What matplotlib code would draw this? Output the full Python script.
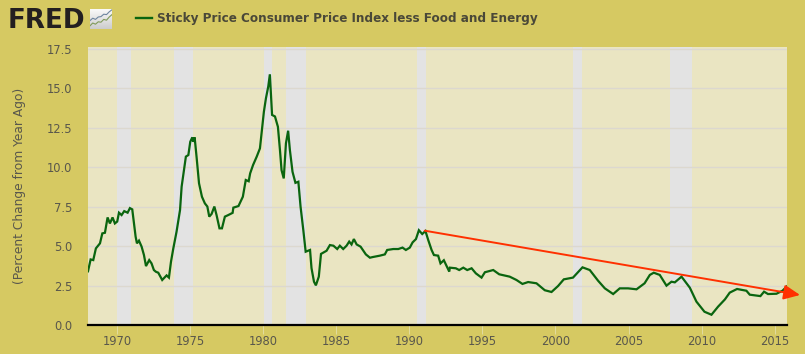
#!/bin/python3
import matplotlib
matplotlib.use("Agg")
import matplotlib.pyplot as plt
import numpy as np

###############################################################################
# Data

YEARS = [
    1968.0, 1968.18, 1968.36, 1968.54, 1968.82, 1968.98, 1969.16, 1969.34, 1969.5, 1969.68,
    1969.84, 1970.0, 1970.12, 1970.3, 1970.48, 1970.71, 1970.87, 1971.03, 1971.26,
    1971.35, 1971.49, 1971.67, 1971.83, 1971.97, 1972.19, 1972.35, 1972.51, 1972.65, 1972.81,
    1973.08, 1973.38, 1973.54, 1973.68, 1973.84, 1974.06, 1974.3, 1974.41, 1974.57, 1974.7,
    1974.87, 1975.0, 1975.14, 1975.2, 1975.3, 1975.43, 1975.6, 1975.8, 1976.0, 1976.17,
    1976.3, 1976.46, 1976.65, 1976.8, 1977.0, 1977.17, 1977.37, 1977.6, 1977.9, 1977.95,
    1978.3, 1978.6, 1978.8, 1979.0, 1979.1, 1979.3, 1979.55, 1979.77, 1980.04, 1980.18,
    1980.34, 1980.45, 1980.6, 1980.8, 1981.0, 1981.14, 1981.25, 1981.4, 1981.55, 1981.7,
    1981.82, 1982.0, 1982.2, 1982.4, 1982.55, 1982.74, 1982.9, 1983.2, 1983.3, 1983.47,
    1983.6, 1983.8, 1983.95, 1984.33, 1984.56, 1984.8, 1985.06, 1985.24, 1985.47, 1985.7,
    1985.88, 1986.04, 1986.2, 1986.39, 1986.66, 1987.02, 1987.3, 1987.48, 1987.98, 1988.32,
    1988.48, 1988.9, 1989.24, 1989.53, 1989.76, 1990.03, 1990.22, 1990.45, 1990.65, 1990.88,
    1991.1, 1991.29, 1991.52, 1991.68, 1991.97, 1992.13, 1992.36, 1992.73, 1992.77, 1993.18,
    1993.41, 1993.69, 1993.96, 1994.26, 1994.55, 1994.94, 1995.17, 1995.74, 1996.15, 1996.87,
    1997.33, 1997.74, 1998.13,
    1998.7, 1999.27, 1999.73, 2000.18, 2000.57, 2001.2, 2001.85, 2002.35, 2002.92, 2003.38,
    2003.95, 2004.4, 2004.97, 2005.55, 2006.1, 2006.46, 2006.73, 2007.14, 2007.6, 2007.94,
    2008.17, 2008.63, 2009.2, 2009.65, 2010.2, 2010.68, 2011.13, 2011.6, 2011.93, 2012.43,
    2013.07, 2013.3, 2014.03, 2014.28, 2014.55, 2015.13, 2015.54, 2015.85,
]
VALUES = [
    3.4, 4.15, 4.11, 4.85, 5.17, 5.8, 5.84, 6.81, 6.43, 6.81,
    6.43, 6.55, 7.11, 6.96, 7.21, 7.11, 7.4, 7.32, 5.59,
    5.17, 5.34, 4.96, 4.43, 3.73, 4.11, 3.9, 3.48, 3.37, 3.31,
    2.85, 3.14, 3.0, 4.0, 4.85, 5.9, 7.28, 8.76, 9.8, 10.66,
    10.76, 11.6, 11.88, 11.6, 11.88, 10.66, 8.97, 8.12, 7.7, 7.5,
    6.86, 7.03, 7.5, 6.96, 6.12, 6.12, 6.86, 6.96, 7.1, 7.43,
    7.53, 8.12, 9.18, 9.1, 9.6, 10.13, 10.66, 11.18, 13.5, 14.35,
    15.1, 15.87, 13.3, 13.2, 12.55, 11.08, 9.8, 9.28, 11.5, 12.3,
    11.08, 9.7, 9.0, 9.07, 7.5, 6.0, 4.64, 4.75, 3.6, 2.74,
    2.51, 3.06, 4.5, 4.7, 5.06, 5.02, 4.81, 5.02, 4.81, 5.02,
    5.28, 5.1, 5.44, 5.1, 4.96, 4.47, 4.26, 4.3, 4.39, 4.47,
    4.75, 4.81, 4.81, 4.9, 4.75, 4.9, 5.23, 5.44, 6.0, 5.76,
    5.95, 5.38, 4.75, 4.43, 4.39, 3.9, 4.1, 3.38, 3.63, 3.59,
    3.48, 3.63, 3.48, 3.59, 3.27, 3.0, 3.34, 3.48, 3.21, 3.06,
    2.85, 2.6, 2.72,
    2.64, 2.2, 2.09, 2.47, 2.89, 3.0, 3.65, 3.48, 2.8, 2.32,
    1.96, 2.32, 2.32, 2.26, 2.64, 3.17, 3.31, 3.17, 2.49, 2.74,
    2.7, 3.06, 2.36, 1.48, 0.84, 0.65, 1.16, 1.62, 2.05, 2.28,
    2.17, 1.92, 1.83, 2.11, 1.96, 1.98, 2.17, 2.45,
]

REC_START = [1969.96, 1973.88, 1980.04, 1981.55, 1990.5, 2001.17, 2007.85]
REC_END = [1970.92, 1975.2, 1980.57, 1982.9, 1991.17, 2001.82, 2009.36]

XTICKS = [1970, 1975, 1980, 1985, 1990, 1995, 2000, 2005, 2010, 2015]
YTICKS = [0.0, 2.5, 5.0, 7.5, 10.0, 12.5, 15.0, 17.5]

ARROW_FROM = (1991.05, 5.97)
ARROW_TO = (2016.74, 1.9)

TITLE = "Sticky Price Consumer Price Index less Food and Energy"
YLABEL = "(Percent Change from Year Ago)"

# little icon next to the logo
ICON_X = [0, 1, 2, 3, 4, 5, 6, 7, 8]
ICON_A = [4.2, 5.4, 4.8, 6.0, 6.2, 7.4, 7.2, 8.6, 9.6]
ICON_B = [1.6, 3.0, 2.4, 3.6, 3.4, 4.8, 4.4, 6.0, 7.2]

###############################################################################
# Colours

BG = "#d6c962"
PLOT_BG = "#eae5c2"
REC = "#e3e3e3"
GRID = "#dcd8cf"
LINE = "#0a650f"
RED = "#ff3000"
TEXT = "#59574c"

W, H = 805, 354


def px_axes(fig, left, top, right, bottom):
    return fig.add_axes([left / W, 1 - bottom / H, (right - left) / W, (bottom - top) / H])


fig = plt.figure(figsize=(W / 100, H / 100), dpi=100, facecolor=BG)
ax = px_axes(fig, 88, 47, 787, 325)
ax.set_facecolor(PLOT_BG)

for s, e in zip(REC_START, REC_END):
    ax.axvspan(s, e, color=REC, lw=0, zorder=1)

ax.set_yticks(YTICKS)
ax.grid(True, axis="y", color=GRID, lw=1, zorder=2)
ax.plot(YEARS, VALUES, color=LINE, lw=1.6, zorder=3, solid_joinstyle="miter")

ax.set_xlim(1968.0, 2015.85)
ax.set_ylim(0, 17.6)
ax.set_xticks(XTICKS)
ax.set_yticklabels(["%.1f" % v for v in YTICKS])
ax.tick_params(axis="x", length=6.5, width=0.7, color="#e2dca0", labelcolor=TEXT, labelsize=8.3, pad=0.5)
ax.tick_params(axis="y", length=0, labelcolor=TEXT, labelsize=8.3, pad=11.5)

for side in ["top", "left", "right"]:
    ax.spines[side].set_visible(False)
ax.spines["bottom"].set_linewidth(1.6)
ax.spines["bottom"].set_color("black")

ax.annotate("", xy=ARROW_TO, xytext=ARROW_FROM, annotation_clip=False, zorder=4,
            arrowprops=dict(arrowstyle="-|>,head_length=0.7,head_width=0.32", color=RED, lw=1.4,
                            shrinkA=0, shrinkB=0, mutation_scale=14))

fig.text(20 / W, 1 - 186 / H, YLABEL, rotation=90, ha="center", va="center", color=TEXT, fontsize=8.8)

# header
fig.text(8 / W, 1 - 28 / H, "FRED", weight="bold", color="#231f20",
         fontsize=18.8, ha="left", va="baseline")
fig.text(157 / W, 1 - 22 / H, TITLE, weight="bold", color="#4a4838", fontsize=8.67, ha="left", va="baseline")
fig.add_artist(plt.Line2D([136 / W, 152 / W], [1 - 18 / H, 1 - 18 / H], color=LINE, lw=1.7))

icon = px_axes(fig, 90, 9, 112, 29)
icon.imshow(np.linspace(0.98, 0.8, 32).reshape(-1, 1), cmap="gray", vmin=0, vmax=1, aspect="auto",
            extent=(0, 8, 0, 10), zorder=0)
icon.plot(ICON_X, ICON_A, color="#6f86a0", lw=0.8)
icon.plot(ICON_X, ICON_B, color="#7f9a5a", lw=0.8)
icon.set_xlim(0, 8)
icon.set_ylim(0, 10)
icon.axis("off")

fig.savefig("out.png", dpi=100, facecolor=BG)
